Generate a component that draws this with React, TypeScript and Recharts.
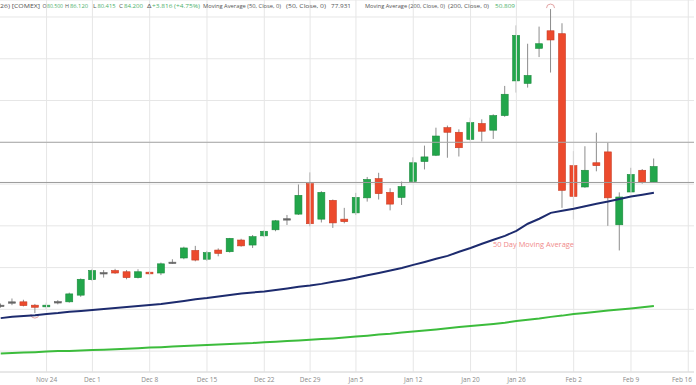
import React from "react";
import {
  ComposedChart,
  Bar,
  Line,
  XAxis,
  YAxis,
  CartesianGrid,
  ReferenceLine,
} from "recharts";

// trading days shown on the axis (last three slots are still empty)
const dates = [
  "Nov 18", "Nov 19", "Nov 20", "Nov 21", "Nov 24", "Nov 25", "Nov 26", "Nov 28",
  "Dec 1", "Dec 2", "Dec 3", "Dec 4", "Dec 5", "Dec 8", "Dec 9", "Dec 10", "Dec 11", "Dec 12",
  "Dec 15", "Dec 16", "Dec 17", "Dec 18", "Dec 19", "Dec 22", "Dec 23", "Dec 24", "Dec 26",
  "Dec 29", "Dec 30", "Dec 31", "Jan 2", "Jan 5", "Jan 6", "Jan 7", "Jan 8", "Jan 9",
  "Jan 12", "Jan 13", "Jan 14", "Jan 15", "Jan 16", "Jan 20", "Jan 21", "Jan 22", "Jan 23",
  "Jan 26", "Jan 27", "Jan 28", "Jan 29", "Jan 30", "Feb 2", "Feb 3", "Feb 4", "Feb 5", "Feb 6",
  "Feb 9", "Feb 10", "Feb 11", "Feb 12", "Feb 13", "Feb 16",
];

const tickLabels = [
  "Nov 24", "Dec 1", "Dec 8", "Dec 15", "Dec 22", "Dec 29", "Jan 5",
  "Jan 12", "Jan 20", "Jan 26", "Feb 2", "Feb 9", "Feb 16",
];

const opens = [
  50.8, 51.5, 51.8, 51.0, 50.6, 51.7, 51.8, 53.4, 57.1, 58.6,
  59.3, 59.0, 57.6, 58.9, 58.7, 61.1, 62.3, 64.1, 62.0, 64.2,
  63.8, 66.6, 65.4, 67.6, 69.05, 71.5, 72.8, 80.1, 71.6, 76.1,
  71.6, 73.1, 76.7, 81.3, 78.0, 76.8, 80.6, 85.4, 86.9, 93.5,
  92.4, 90.7, 94.5, 92.9, 96.4, 104.7, 104.1, 112.5, 116.7, 116.0,
  84.4, 79.3, 85.1, 87.7, 70.25, 78.1, 83.3, 80.5,
];
const highs = [
  51.4, 52.6, 52.3, 51.3, 51.6, 52.2, 54.0, 57.4, 59.7, 59.4,
  59.7, 59.4, 59.6, 59.2, 61.2, 62.0, 65.0, 65.2, 64.0, 64.6,
  67.1, 66.9, 67.8, 68.9, 71.4, 72.6, 79.9, 82.8, 78.3, 76.3,
  74.3, 77.9, 81.7, 82.7, 79.0, 80.6, 86.4, 89.2, 93.5, 94.0,
  93.1, 95.9, 95.5, 96.7, 103.5, 118.0, 113.6, 117.7, 121.9, 118.5,
  87.9, 89.05, 92.3, 89.9, 78.0, 83.9, 83.6, 86.12,
];
const lows = [
  50.4, 51.0, 50.7, 49.1, 50.1, 51.2, 51.6, 53.0, 56.8, 57.6,
  58.5, 57.2, 57.4, 58.2, 58.2, 60.9, 62.0, 61.5, 61.6, 62.7,
  63.6, 65.0, 64.7, 67.3, 68.7, 70.2, 72.6, 69.9, 70.8, 69.5,
  70.6, 72.6, 75.8, 76.3, 73.7, 75.0, 80.4, 83.5, 86.7, 86.3,
  86.6, 90.2, 90.2, 90.8, 96.1, 101.9, 103.1, 110.4, 106.7, 74.3,
  71.5, 79.1, 83.05, 70.0, 64.1, 78.0, 80.1, 80.415,
];
const closes = [
  51.0, 51.8, 50.9, 50.5, 51.0, 51.85, 53.7, 57.2, 59.3, 58.8,
  58.7, 57.6, 59.0, 58.5, 60.9, 61.3, 64.7, 61.8, 63.6, 63.4,
  67.0, 65.2, 67.4, 68.7, 71.2, 71.7, 77.3, 70.5, 78.0, 70.7,
  71.0, 76.8, 81.1, 77.7, 75.2, 79.4, 85.1, 86.5, 91.5, 92.4,
  88.7, 94.7, 92.65, 96.4, 101.5, 115.6, 106.0, 113.6, 114.5, 78.5,
  77.05, 83.3, 84.4, 76.7, 76.9, 82.3, 80.4, 84.2,
];
const ma50 = [
  47.9, 48.2, 48.4, 48.6, 48.9, 49.1, 49.4, 49.6, 49.85, 50.1,
  50.3, 50.55, 50.8, 51.05, 51.3, 51.65, 52.0, 52.4, 52.7, 53.1,
  53.45, 53.8, 54.05, 54.3, 54.65, 55.0, 55.4, 55.7, 56.1, 56.6,
  57.05, 57.55, 58.15, 58.7, 59.3, 59.9, 60.65, 61.35, 62.1, 62.8,
  63.8, 64.7, 65.7, 66.65, 67.6, 68.8, 70.5, 71.7, 73.1, 73.6,
  74.1, 74.7, 75.3, 75.8, 76.4, 77.0, 77.45, 77.93,
];
const ma200 = [
  39.45, 39.55, 39.65, 39.75, 39.9, 40.0, 40.05, 40.15, 40.25, 40.35,
  40.45, 40.55, 40.7, 40.85, 40.95, 41.1, 41.2, 41.35, 41.45, 41.6,
  41.7, 41.85, 41.95, 42.15, 42.25, 42.4, 42.55, 42.75, 42.9, 43.05,
  43.25, 43.5, 43.7, 43.95, 44.15, 44.45, 44.7, 44.95, 45.2, 45.45,
  45.75, 46.0, 46.25, 46.5, 46.8, 47.2, 47.5, 47.8, 48.2, 48.5,
  48.9, 49.15, 49.45, 49.7, 49.95, 50.2, 50.5, 50.8,
];

const priceTicks = [35, 40, 45, 50, 55, 60, 65, 70, 75, 80, 85, 90, 95, 100, 105, 110, 115, 120];
const prevClose = 80.384;
const alertLevel = 90;

const maxHigh = Math.max(...highs);
const minLow = Math.min(...lows);

const data = dates.map((date, i) => {
  const has = i < opens.length;
  return {
    date,
    range: has ? [lows[i], highs[i]] : null,
    open: has ? opens[i] : null,
    high: has ? highs[i] : null,
    low: has ? lows[i] : null,
    close: has ? closes[i] : null,
    ma50: has ? ma50[i] : null,
    ma200: has ? ma200[i] : null,
  };
});

const Candle = (props: any) => {
  const { x, y, width, height, payload } = props;
  if (!payload || payload.open == null) return null;
  const { open, close, high, low } = payload;
  const top0 = Math.min(y, y + height);
  const h0 = Math.abs(height);
  const px = (v: number) => top0 + ((high - v) / (high - low)) * h0;
  const cx = x + width / 2;
  const up = close >= open;
  const doji = Math.abs(close - open) < 0.3;
  const fill = doji ? "#666" : up ? "#22a64b" : "#ec4a2d";
  const stroke = doji ? "#666" : up ? "#1a8a3c" : "#c93b22";
  const bTop = px(Math.max(open, close));
  const bBot = px(Math.min(open, close));
  const bh = Math.max(bBot - bTop, 1.4);
  return (
    <g>
      <line x1={cx} x2={cx} y1={top0} y2={top0 + h0} stroke="#8d8d8d" strokeWidth={1} />
      <rect x={x} y={bTop} width={width} height={bh} fill={fill} stroke={stroke} strokeWidth={0.6} />
      {high === maxHigh && (
        <path d={`M ${cx - 4} ${top0 - 1} A 4 4 0 0 1 ${cx + 4} ${top0 - 1}`} fill="none" stroke="#e2a4a4" strokeWidth={1} />
      )}
      {low === minLow && (
        <path d={`M ${cx - 4} ${top0 + h0 + 1} A 4 4 0 0 0 ${cx + 4} ${top0 + h0 + 1}`} fill="none" stroke="#e2a4a4" strokeWidth={1} />
      )}
    </g>
  );
};

const DateTick = (props: any) => {
  const { x, payload } = props;
  if (!tickLabels.includes(payload.value)) return null;
  const last = payload.value === tickLabels[tickLabels.length - 1];
  return (
    <text
      x={last ? 697 : x}
      y={382}
      textAnchor={last ? "end" : "middle"}
      fontSize={6.5}
      fill="#8a8a8a"
      fontFamily="Open Sans"
    >
      {payload.value}
    </text>
  );
};

const gray = "#555";
const green = "#4caf6a";

const Seg = ({ x, len, fill, children }: any) => (
  <text x={x} y={8} fill={fill} textLength={len} lengthAdjust="spacingAndGlyphs">
    {children}
  </text>
);

const App = () => {
  return (
    <div style={{ position: "absolute", left: 0, top: 0, width: 696, height: 385, overflow: "hidden", background: "#fff" }}>
      <div style={{ position: "absolute", left: -5, top: 0 }}>
        <ComposedChart width={699} height={385} data={data} margin={{ top: 0, right: 0, bottom: 0, left: 0 }}>
          <CartesianGrid vertical={false} stroke="#e6e6e6" />
          <XAxis
            dataKey="date"
            interval={0}
            height={13}
            tickSize={0}
            tickMargin={0}
            tickLine={false}
            axisLine={{ stroke: "#dcdcdc" }}
            tick={<DateTick />}
          />
          <YAxis hide domain={[35, 124.07]} ticks={priceTicks} allowDataOverflow />
          {tickLabels.map((d) => (
            <ReferenceLine key={d} x={d} stroke="#e6e6e6" />
          ))}
          <ReferenceLine y={alertLevel} stroke="#a8a8a8" />
          <ReferenceLine y={prevClose} stroke="#9a9a9a" />
          <Line dataKey="ma200" stroke="#3cbc3c" strokeWidth={2} dot={false} activeDot={false} isAnimationActive={false} />
          <Line dataKey="ma50" stroke="#1d2b6e" strokeWidth={2} dot={false} activeDot={false} isAnimationActive={false} />
          <Bar dataKey="range" barSize={7} shape={<Candle />} isAnimationActive={false} />
        </ComposedChart>
      </div>
      <svg width={696} height={385} style={{ position: "absolute", left: 0, top: 0, pointerEvents: "none" }}>
        <g fontFamily="Open Sans" fontSize={6}>
          <Seg x={0} len={40} fill={gray}>26) [COMEX]</Seg>
          <Seg x={42.5} len={4} fill={gray}>O</Seg>
          <Seg x={47} len={16} fill={green}>80.500</Seg>
          <Seg x={65} len={4} fill={gray}>H</Seg>
          <Seg x={70} len={18} fill={green}>86.120</Seg>
          <Seg x={93} len={3.5} fill={gray}>L</Seg>
          <Seg x={97.5} len={18} fill={green}>80.415</Seg>
          <Seg x={119} len={4} fill={gray}>C</Seg>
          <Seg x={124} len={19} fill={green}>84.200</Seg>
          <Seg x={147} len={4.5} fill={gray}>Δ</Seg>
          <Seg x={152} len={48} fill={green}>+3.816 (+4.75%)</Seg>
          <Seg x={203} len={78} fill={gray}>Moving Average (50, Close, 0)</Seg>
          <Seg x={286} len={40} fill={gray}>(50, Close, 0)</Seg>
          <Seg x={331} len={20} fill={gray}>77.931</Seg>
          <Seg x={365} len={80} fill={gray}>Moving Average (200, Close, 0)</Seg>
          <Seg x={448} len={41} fill={gray}>(200, Close, 0)</Seg>
          <Seg x={495} len={20} fill={green}>50.809</Seg>
        </g>
        <text x={493} y={247} fontFamily="Open Sans" fontSize={7.5} fill="#f08a8a" textLength={81} lengthAdjust="spacingAndGlyphs">
          50 Day Moving Average
        </text>
      </svg>
    </div>
  );
};

export default App;
